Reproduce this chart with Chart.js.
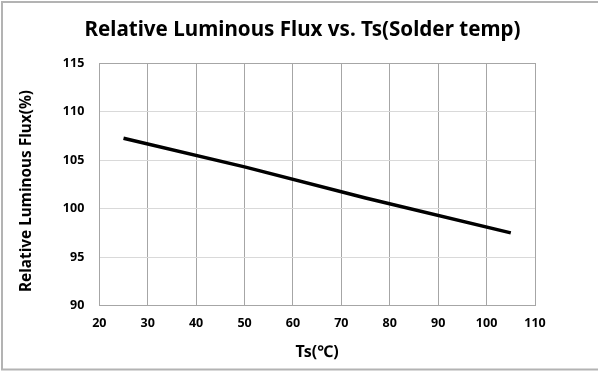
<!DOCTYPE html>
<html>
<head>
<meta charset="utf-8">
<script src="https://cdn.jsdelivr.net/npm/chart.js@4.4.1/dist/chart.umd.min.js"></script>
<style>
  html, body { margin: 0; padding: 0; background: #fff; }
  #wrap { position: relative; width: 598px; height: 371px; }
</style>
</head>
<body>
<div id="wrap"><canvas id="c" width="598" height="371"></canvas></div>
<script>
// Solder temperature (°C) and relative luminous flux (%)
const solderTemp = [25, 50, 75, 105];
const relativeFlux = [107.25, 104.3, 101.1, 97.5];

const xTicks = [20, 30, 40, 50, 60, 70, 80, 90, 100, 110];
const yTicks = [90, 95, 100, 105, 110, 115];

const chartTitle = 'Relative Luminous Flux vs. Ts(Solder temp)';
const xTitle = 'Ts(\u2103)';
const yTitle = 'Relative Luminous Flux(%)';

const FONT = '"Noto Sans", "Open Sans", sans-serif';
const FRAME_GRID = '#a6a6a6';
const INNER_HGRID = '#d9d9d9';

// Outer frame and text titles drawn on the canvas
const decorations = {
  id: 'decorations',
  beforeDraw(chart) {
    const ctx = chart.ctx;
    ctx.save();
    ctx.fillStyle = '#fff';
    ctx.fillRect(0, 0, chart.width, chart.height);
    ctx.strokeStyle = '#b3b3b3';
    ctx.lineWidth = 2;
    ctx.strokeRect(2, 2, chart.width + 20, 367.5);
    ctx.restore();
  },
  afterDraw(chart) {
    const ctx = chart.ctx;
    const area = chart.chartArea;
    ctx.save();
    ctx.fillStyle = '#000';
    ctx.textAlign = 'center';
    ctx.textBaseline = 'middle';
    ctx.font = 'bold 20.6px ' + FONT;
    ctx.fillText(chartTitle, 302.5, 30);
    ctx.font = 'bold 16px ' + FONT;
    ctx.fillText(xTitle, (area.left + area.right) / 2, 352);
    ctx.font = 'bold 15.4px ' + FONT;
    ctx.translate(27, 191);
    ctx.rotate(-Math.PI / 2);
    ctx.fillText(yTitle, 0, 0);
    ctx.restore();
  }
};

new Chart(document.getElementById('c'), {
  type: 'line',
  data: {
    datasets: [{
      data: solderTemp.map((t, i) => ({ x: t, y: relativeFlux[i] })),
      borderColor: '#000',
      borderWidth: 3.5,
      pointRadius: 0,
      tension: 0,
      fill: false
    }]
  },
  options: {
    responsive: false,
    animation: false,
    devicePixelRatio: 1,
    layout: { padding: { top: 63, right: 63, left: 0, bottom: 0 } },
    plugins: {
      legend: { display: false },
      title: { display: false },
      tooltip: { enabled: false }
    },
    scales: {
      x: {
        type: 'linear',
        min: 20,
        max: 110,
        afterBuildTicks(scale) { scale.ticks = xTicks.map(v => ({ value: v })); },
        afterFit(scale) { scale.height = 65.3; },
        grid: {
          drawTicks: false,
          color: FRAME_GRID,
          lineWidth: 1
        },
        border: { display: true, color: FRAME_GRID, width: 1 },
        ticks: {
          padding: 10,
          color: '#000',
          font: { family: FONT, size: 12.5, weight: 'bold' }
        }
      },
      y: {
        min: 90,
        max: 115,
        afterBuildTicks(scale) { scale.ticks = yTicks.map(v => ({ value: v })); },
        afterFit(scale) { scale.width = 99.3; },
        grid: {
          drawTicks: false,
          color: ctx => (ctx.tick && (ctx.tick.value === 115 || ctx.tick.value === 90)) ? FRAME_GRID : INNER_HGRID,
          lineWidth: 1
        },
        border: { display: true, color: FRAME_GRID, width: 1 },
        ticks: {
          padding: 15,
          color: '#000',
          font: { family: FONT, size: 12.5, weight: 'bold' }
        }
      }
    }
  },
  plugins: [decorations]
});
</script>
</body>
</html>
